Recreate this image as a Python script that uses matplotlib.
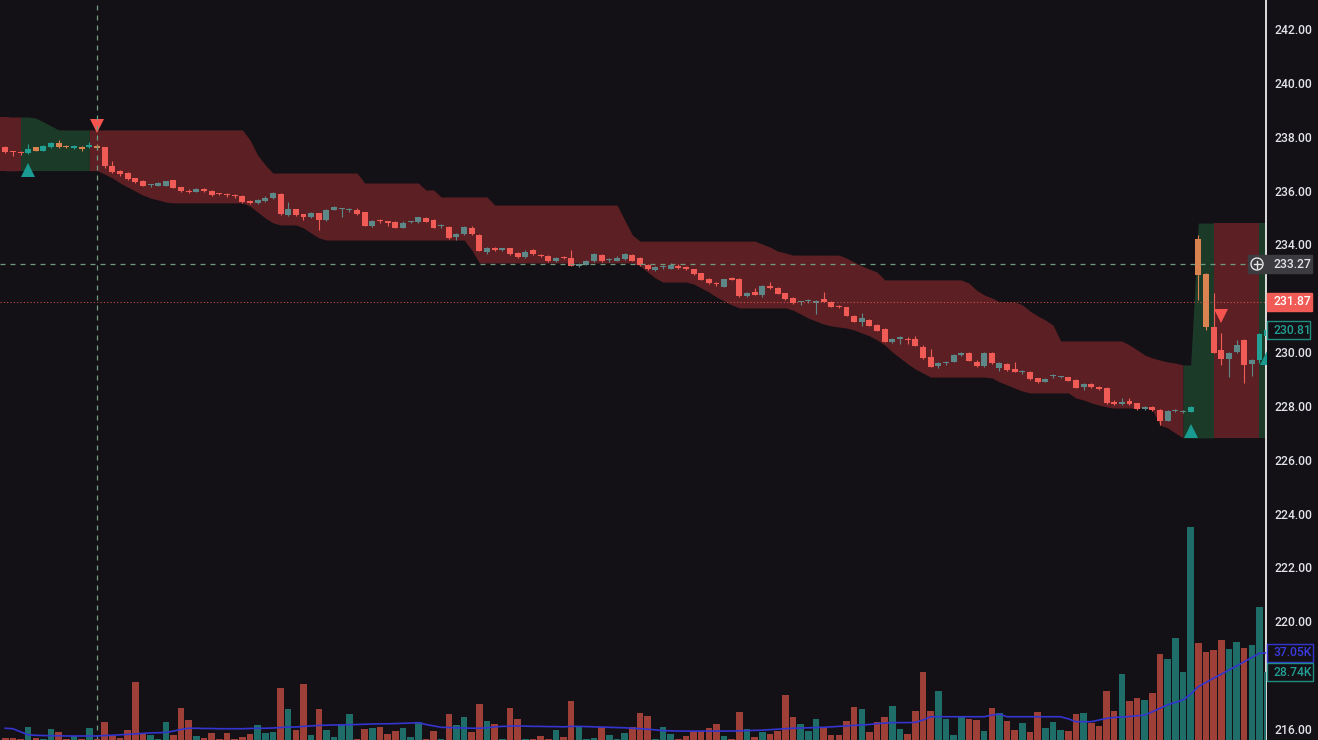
import numpy as np
import matplotlib
matplotlib.use('Agg')
import matplotlib.pyplot as plt
from matplotlib.patches import Rectangle, Circle
from matplotlib.lines import Line2D
from matplotlib.transforms import IdentityTransform

# ---- candles ----
opens = [237.60, 237.43, 237.41, 237.38, 237.60, 237.48, 237.60, 237.75, 237.65, 237.58,
         237.63, 237.60, 237.67, 237.60, 236.90, 236.72, 236.65, 236.45, 236.35, 236.19,
         236.17, 236.18, 236.38, 236.12, 236.00, 235.95, 236.01, 236.00, 235.88, 235.84,
         235.81, 235.80, 235.60, 235.55, 235.62, 235.72, 235.86, 235.10, 235.30, 235.12,
         235.00, 235.15, 234.90, 235.28, 235.30, 235.29, 235.28, 235.19, 234.67, 234.86,
         234.85, 234.84, 234.62, 234.83, 234.82, 234.97, 234.90, 234.68, 234.66, 234.28,
         234.38, 234.60, 234.35, 233.70, 233.85, 233.78, 233.85, 233.69, 233.53, 233.79,
         233.60, 233.57, 233.38, 233.50, 233.48, 233.18, 233.25, 233.38, 233.62, 233.42,
         233.40, 233.45, 233.60, 233.48, 233.23, 233.05, 233.17, 233.10, 233.20, 233.15,
         233.07, 232.92, 232.71, 232.53, 232.42, 232.76, 232.71, 232.08, 232.22, 232.10,
         232.47, 232.37, 232.18, 232.02, 231.84, 231.88, 231.82, 231.97, 231.87, 231.72,
         231.66, 231.34, 231.12, 231.19, 231.00, 230.84, 230.38, 230.50, 230.46, 230.47,
         230.20, 229.83, 229.48, 229.60, 229.64, 229.88, 229.98, 229.64, 229.47, 229.98,
         229.42, 229.56, 229.37, 229.27, 229.27, 229.02, 228.90, 229.10, 229.07, 229.06,
         228.96, 228.70, 228.81, 228.71, 228.68, 228.16, 228.06, 228.19, 228.09, 227.87,
         227.94, 227.85, 227.45, 227.82, 227.77, 227.78, 234.19, 232.90, 230.94, 230.07,
         229.73, 230.00, 230.45, 229.56, 229.70, 230.60]
highs = [237.65, 237.48, 237.48, 237.73, 237.63, 237.68, 237.80, 237.88, 237.68, 237.68,
         237.66, 237.80, 237.72, 237.62, 237.10, 236.76, 236.68, 236.48, 236.38, 236.25,
         236.32, 236.37, 236.40, 236.14, 236.05, 236.08, 236.10, 236.03, 235.92, 235.90,
         235.86, 235.83, 235.64, 235.70, 235.78, 235.95, 235.90, 235.58, 235.33, 235.14,
         235.22, 235.18, 235.30, 235.42, 235.36, 235.35, 235.34, 235.22, 234.90, 234.95,
         234.88, 234.86, 234.88, 234.87, 235.02, 235.02, 234.93, 234.74, 234.70, 234.42,
         234.70, 234.68, 234.37, 233.90, 233.90, 233.88, 233.88, 233.72, 233.78, 233.82,
         233.66, 233.60, 233.52, 233.56, 233.80, 233.30, 233.42, 233.68, 233.66, 233.48,
         233.55, 233.68, 233.64, 233.52, 233.26, 233.20, 233.25, 233.30, 233.28, 233.18,
         233.10, 232.95, 232.74, 232.60, 232.72, 232.80, 232.74, 232.24, 232.38, 232.48,
         232.61, 232.40, 232.21, 232.05, 231.90, 231.98, 231.95, 232.24, 231.90, 231.75,
         231.68, 231.36, 231.45, 231.22, 231.03, 230.88, 230.52, 230.58, 230.55, 230.60,
         230.25, 230.10, 229.62, 229.66, 229.91, 230.00, 230.01, 229.70, 230.00, 230.00,
         229.62, 229.60, 229.64, 229.35, 229.30, 229.05, 229.03, 229.18, 229.12, 229.09,
         228.98, 228.84, 228.84, 228.74, 228.71, 228.20, 228.30, 228.30, 228.12, 227.98,
         227.99, 227.88, 227.84, 227.88, 227.83, 227.98, 234.35, 232.95, 232.18, 230.70,
         230.00, 230.45, 230.48, 229.75, 230.70, 230.85]
lows = [237.40, 237.28, 237.33, 237.36, 237.46, 237.46, 237.58, 237.58, 237.57, 237.55,
        237.48, 237.58, 237.50, 236.85, 236.65, 236.55, 236.40, 236.28, 236.15, 236.14,
        236.15, 236.16, 236.08, 235.95, 235.90, 235.93, 235.95, 235.80, 235.82, 235.76,
        235.74, 235.55, 235.50, 235.50, 235.58, 235.70, 235.10, 235.06, 235.07, 234.90,
        234.97, 234.53, 234.88, 235.26, 235.00, 235.20, 235.10, 234.67, 234.65, 234.80,
        234.70, 234.60, 234.60, 234.78, 234.80, 234.82, 234.60, 234.62, 234.20, 234.18,
        234.36, 234.36, 233.74, 233.66, 233.76, 233.75, 233.62, 233.50, 233.50, 233.60,
        233.52, 233.35, 233.35, 233.45, 233.19, 233.15, 233.22, 233.35, 233.36, 233.36,
        233.38, 233.42, 233.38, 233.21, 233.05, 233.02, 233.10, 233.08, 233.08, 233.06,
        232.88, 232.66, 232.52, 232.45, 232.40, 232.66, 232.06, 232.04, 232.10, 232.06,
        232.35, 232.14, 231.95, 231.79, 231.75, 231.82, 231.40, 231.85, 231.66, 231.64,
        231.32, 231.11, 230.95, 230.96, 230.77, 230.36, 230.35, 230.30, 230.30, 230.21,
        229.75, 229.44, 229.40, 229.50, 229.62, 229.86, 229.66, 229.46, 229.45, 229.56,
        229.30, 229.30, 229.25, 229.20, 228.97, 228.86, 228.88, 229.05, 229.02, 228.92,
        228.65, 228.60, 228.66, 228.60, 228.07, 228.04, 228.03, 228.05, 227.85, 227.84,
        227.80, 227.30, 227.42, 227.76, 227.72, 227.76, 231.93, 230.80, 229.95, 229.52,
        229.09, 229.98, 228.85, 229.10, 229.60, 230.55]
closes = [237.43, 237.42, 237.40, 237.53, 237.48, 237.65, 237.75, 237.60, 237.60, 237.65,
          237.55, 237.70, 237.58, 236.90, 236.70, 236.60, 236.42, 236.30, 236.17, 236.20,
          236.29, 236.35, 236.10, 235.98, 235.95, 236.06, 236.00, 235.83, 235.86, 235.83,
          235.80, 235.58, 235.55, 235.65, 235.73, 235.92, 235.12, 235.30, 235.10, 235.03,
          235.15, 234.90, 235.28, 235.37, 235.32, 235.31, 235.12, 234.69, 234.88, 234.85,
          234.78, 234.62, 234.80, 234.83, 235.00, 234.84, 234.62, 234.68, 234.22, 234.38,
          234.63, 234.38, 233.76, 233.85, 233.79, 233.85, 233.64, 233.54, 233.73, 233.64,
          233.55, 233.38, 233.48, 233.48, 233.21, 233.27, 233.39, 233.64, 233.38, 233.42,
          233.50, 233.64, 233.40, 233.23, 233.07, 233.17, 233.17, 233.25, 233.11, 233.10,
          232.90, 232.68, 232.55, 232.52, 232.70, 232.68, 232.08, 232.20, 232.12, 232.45,
          232.37, 232.16, 231.97, 231.81, 231.84, 231.90, 231.90, 231.87, 231.68, 231.66,
          231.34, 231.13, 231.25, 230.98, 230.79, 230.38, 230.47, 230.50, 230.45, 230.23,
          229.77, 229.46, 229.60, 229.60, 229.89, 229.97, 229.68, 229.48, 229.98, 229.58,
          229.60, 229.33, 229.27, 229.27, 229.00, 228.90, 229.00, 229.10, 229.07, 228.94,
          228.67, 228.81, 228.69, 228.62, 228.09, 228.06, 228.13, 228.07, 227.87, 227.95,
          227.86, 227.45, 227.82, 227.82, 227.77, 227.95, 232.86, 230.92, 229.98, 229.73,
          229.98, 230.26, 229.52, 229.70, 230.67, 230.81]

# volume in thousands and its moving average
volume = [0.8, 1.0, 0.6, 5.5, 0.8, 0.6, 4.7, 3.4, 0.6, 1.7,
          0.5, 5.2, 0.6, 7.6, 2.0, 1.0, 4.3, 24.7, 3.0, 2.0,
          0.5, 7.6, 2.0, 13.6, 8.5, 1.8, 0.7, 3.0, 0.5, 3.0,
          0.5, 1.2, 2.4, 6.4, 3.0, 3.5, 22.0, 13.3, 4.3, 23.8,
          2.0, 13.3, 4.3, 1.4, 6.7, 11.0, 0.5, 4.8, 5.0, 5.5,
          2.7, 4.0, 5.0, 1.4, 7.6, 0.5, 3.9, 0.5, 11.0, 6.4,
          9.9, 3.4, 15.3, 8.1, 6.8, 0.5, 13.5, 8.8, 0.4, 0.4,
          1.7, 0.5, 4.3, 1.2, 16.6, 5.4, 0.4, 0.7, 5.4, 2.1,
          0.4, 2.8, 5.7, 11.3, 10.2, 0.5, 5.7, 2.6, 0.5, 1.7,
          4.0, 4.0, 5.0, 6.8, 1.7, 0.5, 11.8, 4.7, 1.4, 3.4,
          2.6, 3.8, 19.1, 9.9, 6.8, 3.8, 8.8, 5.4, 2.1, 2.1,
          8.2, 14.2, 13.0, 3.6, 7.8, 9.6, 14.5, 4.5, 2.6, 12.3,
          28.8, 12.5, 20.8, 8.8, 2.1, 9.6, 9.1, 8.5, 3.8, 13.8,
          11.3, 8.2, 4.3, 7.1, 3.3, 11.8, 5.0, 7.6, 4.3, 3.8,
          10.9, 11.3, 7.4, 6.0, 20.8, 12.3, 28.1, 16.6, 17.7, 17.0,
          20.1, 36.5, 34.5, 43.3, 29.1, 90.6, 41.4, 37.6, 38.3, 42.6,
          38.7, 41.6, 39.3, 40.4, 56.7, 28.74]
vol_ma = [5.0, 4.8, 3.5, 2.2, 2.0, 1.9, 1.8, 1.8, 1.7, 1.7,
          1.7, 1.7, 1.7, 1.9, 2.0, 2.2, 2.4, 2.6, 2.8, 3.0,
          3.1, 3.2, 3.8, 4.5, 5.0, 5.0, 4.9, 4.9, 4.8, 4.8,
          4.8, 4.8, 4.9, 5.0, 5.0, 5.1, 5.3, 5.5, 5.5, 5.8,
          6.0, 6.2, 6.3, 6.4, 6.4, 6.5, 6.6, 6.7, 6.8, 6.9,
          6.9, 7.0, 7.1, 7.2, 7.4, 6.6, 6.0, 5.4, 5.3, 5.2,
          5.1, 5.0, 5.0, 5.2, 5.6, 5.8, 5.9, 6.0, 5.9, 5.8,
          5.8, 5.7, 5.7, 5.6, 5.8, 5.8, 5.7, 5.6, 5.5, 5.4,
          5.3, 5.2, 5.0, 4.8, 4.6, 4.3, 4.0, 3.9, 3.8, 3.8,
          3.8, 3.8, 3.8, 3.8, 3.8, 3.8, 3.9, 4.0, 4.1, 4.2,
          4.4, 4.6, 4.8, 5.0, 5.1, 5.2, 5.3, 5.4, 5.6, 5.8,
          6.0, 6.2, 6.4, 6.6, 7.0, 7.2, 7.4, 7.4, 7.4, 7.5,
          8.5, 9.9, 9.9, 9.9, 9.9, 9.9, 9.9, 9.9, 9.9, 10.6,
          11.0, 9.9, 9.9, 9.9, 9.9, 9.9, 9.9, 9.9, 9.9, 9.0,
          7.8, 7.8, 7.8, 8.5, 9.2, 9.6, 9.8, 10.0, 10.3, 10.6,
          12.0, 13.5, 15.0, 16.0, 17.0, 19.5, 22.7, 24.5, 26.3, 28.0,
          29.8, 31.5, 33.3, 35.1, 36.9, 37.05]

# trend band edges
band_upper = [238.73, 238.73, 238.73, 238.73, 238.69, 238.55, 238.40, 238.25, 238.25, 238.25,
              238.25, 238.25, 238.25, 238.25, 238.25, 238.25, 238.25, 238.25, 238.25, 238.25,
              238.25, 238.25, 238.25, 238.25, 238.25, 238.25, 238.25, 238.25, 238.25, 238.25,
              238.25, 238.25, 237.88, 237.32, 236.95, 236.65, 236.65, 236.65, 236.65, 236.65,
              236.65, 236.65, 236.65, 236.65, 236.65, 236.65, 236.65, 236.28, 236.28, 236.28,
              236.28, 236.28, 236.28, 236.28, 236.28, 236.02, 236.02, 235.76, 235.76, 235.76,
              235.76, 235.76, 235.76, 235.76, 235.46, 235.46, 235.46, 235.46, 235.46, 235.46,
              235.46, 235.46, 235.46, 235.46, 235.46, 235.46, 235.46, 235.46, 235.46, 235.46,
              235.46, 234.90, 234.35, 234.12, 234.12, 234.12, 234.12, 234.12, 234.12, 234.12,
              234.12, 234.12, 234.12, 234.12, 234.12, 234.12, 234.12, 234.12, 234.12, 234.01,
              233.90, 233.75, 233.68, 233.60, 233.60, 233.60, 233.60, 233.60, 233.60, 233.60,
              233.49, 233.34, 233.20, 233.08, 232.97, 232.68, 232.68, 232.68, 232.68, 232.68,
              232.68, 232.68, 232.68, 232.68, 232.68, 232.68, 232.56, 232.30, 232.12, 232.01,
              231.86, 231.86, 231.86, 231.75, 231.52, 231.34, 231.19, 231.00, 230.41, 230.41,
              230.41, 230.41, 230.41, 230.41, 230.41, 230.41, 230.41, 230.26, 230.08, 229.89,
              229.78, 229.70, 229.63, 229.59, 229.52, 229.52, 234.79, 234.79, 234.79, 234.79,
              234.79, 234.79, 234.79, 234.79, 234.79, 234.79]
band_lower = [236.73, 236.73, 236.74, 236.74, 236.74, 236.74, 236.74, 236.74, 236.74, 236.74,
              236.74, 236.74, 236.74, 236.61, 236.47, 236.28, 236.13, 235.98, 235.83, 235.72,
              235.65, 235.57, 235.54, 235.54, 235.54, 235.54, 235.54, 235.54, 235.54, 235.54,
              235.54, 235.54, 235.42, 235.20, 234.98, 234.80, 234.72, 234.72, 234.72, 234.61,
              234.42, 234.24, 234.16, 234.16, 234.16, 234.16, 234.16, 234.16, 234.16, 234.16,
              234.16, 234.16, 234.16, 234.16, 234.16, 234.16, 234.16, 234.16, 234.16, 234.16,
              234.16, 233.79, 233.31, 233.31, 233.31, 233.31, 233.31, 233.31, 233.31, 233.31,
              233.31, 233.31, 233.31, 233.31, 233.31, 233.31, 233.31, 233.31, 233.31, 233.31,
              233.31, 233.31, 233.31, 233.20, 232.97, 232.75, 232.60, 232.60, 232.60, 232.60,
              232.53, 232.38, 232.23, 232.04, 231.90, 231.75, 231.64, 231.64, 231.64, 231.64,
              231.64, 231.64, 231.64, 231.56, 231.41, 231.26, 231.15, 231.04, 230.97, 230.93,
              230.89, 230.82, 230.71, 230.60, 230.45, 230.26, 230.00, 229.78, 229.56, 229.37,
              229.22, 229.07, 229.07, 229.07, 229.07, 229.07, 229.07, 229.07, 229.07, 229.04,
              228.89, 228.78, 228.66, 228.55, 228.48, 228.48, 228.48, 228.48, 228.48, 228.48,
              228.29, 228.22, 228.11, 228.03, 227.96, 227.92, 227.92, 227.92, 227.92, 227.92,
              227.85, 227.28, 227.18, 226.99, 226.81, 226.81, 226.81, 226.81, 226.81, 226.81,
              226.81, 226.81, 226.81, 226.81, 226.81, 226.81]

# band colour spans (start bar, end bar, trend) and candle bars in bullish trend
band_spans = [(0, 2, 'r'), (2, 11, 'g'), (11, 154, 'r'), (154, 158, 'g'), (158, 164, 'r'), (164, 165, 'g')]
green_candle_spans = [(3, 12), (155, 157), (164, 165)]

# signal triangles
sig_idx = [3, 12, 155, 159, 165]
sig_price = [236.76, 238.40, 227.07, 231.34, 229.78]
sig_up = [True, False, True, False, True]

price_ticks = [242, 240, 238, 236, 234, 230, 228, 226, 224, 222, 220, 216]
crosshair_price = 233.27
crosshair_bar = 12
last_line_price = 231.87
last_close_label = 230.81
vol_ma_label = 37.05
vol_label = 28.74

# ---- colours ----
BG = '#131116'
BAND_RED = '#5c2024'
BAND_GREEN = '#1c3a28'
C_DOWN = '#f05b55'
C_UP_RED = '#5e8888'
C_UP = '#22a094'
C_DOWN_GREEN = '#d98450'
VOL_UP = '#1f6d68'
VOL_DOWN = '#9e4038'
TXT = '#e2e4ea'
CROSS = '#6f9a7e'

plt.rcParams['font.family'] = ['Roboto', 'DejaVu Sans']

W, H = 1318, 740
fig = plt.figure(figsize=(W / 100, H / 100), dpi=100, facecolor=BG)
ax = fig.add_axes([0, 0, 1266 / W, 1])
ax.set_facecolor(BG)

n = len(closes)
x = np.arange(n)
x_left = -0.683
ax.set_xlim(x_left, 164.85)
ax.set_ylim(215.588, 243.077)

# band (first span is carried to the left edge of the pane)
up_arr = np.array(band_upper)
lo_arr = np.array(band_lower)
ax.fill_between([x_left, 0.5], [lo_arr[0], lo_arr[0]], [up_arr[0], up_arr[0]],
                color=BAND_RED, lw=0, zorder=1)
for a, b, t in band_spans:
    seg = slice(a, b + 1)
    ax.fill_between(x[seg], lo_arr[seg], up_arr[seg],
                    color=BAND_GREEN if t == 'g' else BAND_RED, lw=0, zorder=1)

# candles
green = np.zeros(n, bool)
for a, b in green_candle_spans:
    green[a:b + 1] = True
o = np.array(opens)
c = np.array(closes)
up = c >= o
cols = []
for i in range(n):
    if green[i]:
        cols.append(C_UP if up[i] else C_DOWN_GREEN)
    else:
        cols.append(C_UP_RED if up[i] else C_DOWN)
ax.vlines(x, lows, highs, colors=cols, lw=0.8, zorder=3)
body = np.maximum(np.abs(c - o), 0.04)
ax.bar(x, body, bottom=np.minimum(o, c), width=0.78, color=cols, lw=0, zorder=4)

# signals
for i, p, u in zip(sig_idx, sig_price, sig_up):
    ax.plot(i, p, marker='^' if u else 'v', ms=10.5, mew=0,
            color='#1a9b92' if u else '#f7544f', zorder=5, clip_on=True)

# crosshair and price lines
ax.axhline(crosshair_price, color=CROSS, lw=0.9, dashes=(4, 4), zorder=6)
ax.axvline(crosshair_bar, color=CROSS, lw=0.9, dashes=(4, 4), zorder=6)
ax.axhline(last_line_price, color=C_DOWN, lw=0.8, dashes=(1, 2), alpha=0.8, zorder=6)

# axis styling
for s in ['top', 'left', 'bottom']:
    ax.spines[s].set_visible(False)
ax.spines['right'].set_color('#ececec')
ax.spines['right'].set_linewidth(1.3)
ax.set_xticks([])
ax.yaxis.tick_right()
ax.set_yticks(price_ticks)
ax.set_yticklabels(['%.2f' % t for t in price_ticks])
ax.tick_params(axis='y', length=0, pad=6, labelcolor=TXT, labelsize=8.7)
for lbl in ax.get_yticklabels():
    lbl.set_fontweight('medium')

# volume overlay
axv = fig.add_axes([0, 0, 1266 / W, 1], sharex=ax)
axv.patch.set_alpha(0)
axv.set_ylim(0, 740 / 2.35)
axv.axis('off')
vcols = [VOL_UP if u else VOL_DOWN for u in up]
axv.bar(x, volume, width=0.86, color=vcols, lw=0, zorder=2)
axv.plot(x, vol_ma, color='#3434cf', lw=1.2, zorder=3)


def label(trans, val, text, fc, ec, tc, x0=1267, x1=1312):
    y = trans.transform((0, val))[1]
    fig.add_artist(Rectangle((x0, y - 9), x1 - x0, 18, transform=IdentityTransform(),
                             fc=fc, ec=ec, lw=1, zorder=10))
    fig.text(1274, y, text, transform=IdentityTransform(), color=tc,
             fontsize=8.7, fontweight='medium', va='center', ha='left', zorder=11)


label(ax.transData, crosshair_price, '%.2f' % crosshair_price, '#3c3c40', '#3c3c40', TXT, x0=1248)
yc = ax.transData.transform((0, crosshair_price))[1]
fig.add_artist(Circle((1257, yc), 6, transform=IdentityTransform(), fill=False,
                      ec='#e6e6e6', lw=1, zorder=12))
fig.add_artist(Line2D([1253.5, 1260.5], [yc, yc], transform=IdentityTransform(),
                      color='#e6e6e6', lw=1, zorder=12))
fig.add_artist(Line2D([1257, 1257], [yc - 3.5, yc + 3.5], transform=IdentityTransform(),
                      color='#e6e6e6', lw=1, zorder=12))
label(ax.transData, last_line_price, '%.2f' % last_line_price, '#f05b55', '#f05b55', '#ffffff')
label(ax.transData, last_close_label, '%.2f' % last_close_label, BG, '#1f8c82', '#22a094', x1=1310)
label(axv.transData, vol_ma_label, '%.2fK' % vol_ma_label, BG, '#3434cf', '#3a3ae0', x1=1313)
label(axv.transData, vol_label, '%.2fK' % vol_label, BG, '#1f8c82', '#22a094', x1=1313)

fig.savefig('out.png', dpi=100, facecolor=BG)
